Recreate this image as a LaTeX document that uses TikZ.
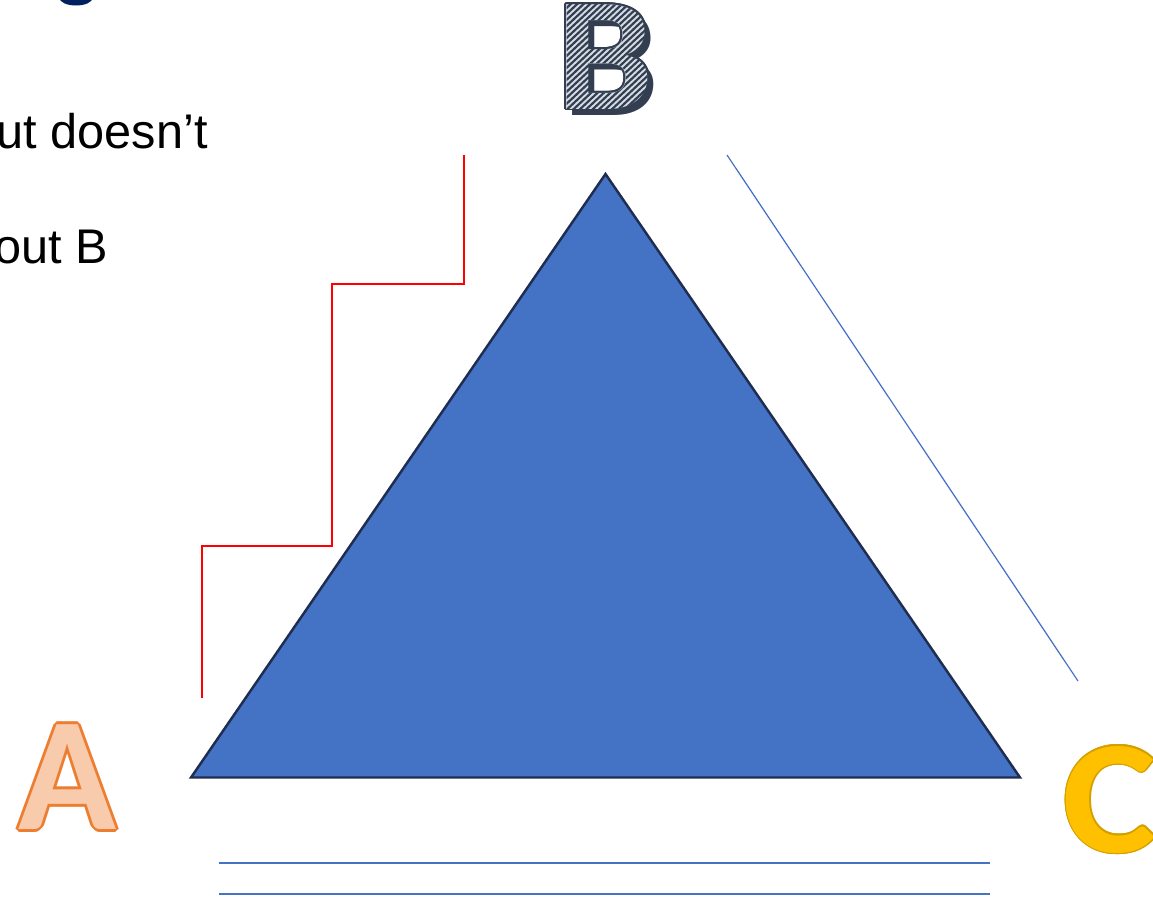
\documentclass[tikz,border=0pt]{standalone}
\usepackage{fontspec}
\setmainfont{Liberation Sans}
\newfontfamily\letterfont{Carlito}
\usepackage{tikz}
\usetikzlibrary{positioning}

\definecolor{trifill}{HTML}{4472C4}
\definecolor{triedge}{HTML}{1F2D50}
\definecolor{stepred}{HTML}{FF0000}
\definecolor{lineblue}{HTML}{4472C4}
\definecolor{apeach}{HTML}{F8CBAD}
\definecolor{aorange}{HTML}{ED7D31}
\definecolor{bnavy}{HTML}{333F50}
\definecolor{blight}{HTML}{D6DCE5}
\definecolor{cgold}{HTML}{FFC000}
\definecolor{crim}{HTML}{D4A000}
\definecolor{titlenavy}{HTML}{002060}

\newcommand{\letterfontsize}{\letterfont\bfseries\fontsize{92}{92}\selectfont}
\newcommand{\wideB}[1]{\scalebox{1.07}[1]{#1}}
\newcommand{\wideC}[1]{\scalebox{1.1}[1]{#1}}
% letter used as clip (text render mode 4), then navy stripes
\newcommand{\hatchedletter}[1]{%
  \special{pdf:literal direct 4 Tr}#1\special{pdf:literal direct 0 Tr}%
  \special{pdf:literal 0.2 0.247 0.314 RG [1.2 1.2] 0 d 0 J 130 w -101 105 m 49 -45 l S}}

\begin{document}
\begin{tikzpicture}[x=0.02cm,y=-0.02cm,
    bodytext/.style={inner sep=0pt, font=\fontsize{27.7}{33}\selectfont, anchor=base east},
    bigletter/.style={inner sep=0pt, font=\letterfontsize, anchor=base},
    triangle/.style={fill=trifill, draw=triedge, line width=1.4pt, line join=miter},
    stepline/.style={draw=stepred, line width=0.85pt},
    thinblue/.style={draw=lineblue, line width=0.7pt},
    baseline/.style={draw=lineblue, line width=0.9pt}]
    \useasboundingbox (0,0) rectangle (1153,897);
    \clip (0,0) rectangle (1153,897);

    % cut off title letter at the top
    \fill[titlenavy] (76,-2) ellipse [x radius=16.5, y radius=7.5];

    \node[bodytext] (line1) at (208,148) {ut doesn’t};
    \node[bodytext] (line2) at (108,263) {out B};

    % the triangle
    \coordinate (apex) at (605.5,174);
    \coordinate (left) at (191,777.5);
    \coordinate (right) at (1020,777.5);
    \draw[triangle] (left) -- (apex) -- (right) -- cycle;

    % red staircase
    \coordinate (stairlow) at (202,698);
    \coordinate (stairmid) at (332,546);
    \coordinate (stairup) at (464,284);
    \coordinate (stairtop) at (464,155);
    \draw[stepline] (stairlow) |- (stairmid) |- (stairup) -- (stairtop);

    % right side line
    \coordinate (slopetop) at (727,155);
    \coordinate (slopelow) at (1078,681);
    \draw[thinblue] (slopetop) -- (slopelow);

    % two lines under the base
    \coordinate (lineAa) at (219,863);
    \coordinate (lineAb) at (990,863);
    \coordinate (lineBa) at (219,894);
    \coordinate (lineBb) at (990,894);
    \draw[baseline] (lineAa) -- (lineAb);
    \draw[baseline] (lineBa) -- (lineBb);

    % letter A, orange outline
    \foreach \a in {0,30,...,330}
        \node[bigletter, text=aorange] (ringA\a) at ([shift={(\a:2.6)}]67.5,829.5) {A};
    \node[bigletter, text=apeach] (letA) at (67.5,829.5) {A};

    % letter C, gold
    \foreach \a in {0,30,...,330}
        \node[bigletter, text=crim] (ringC\a) at ([shift={(\a:1.2)}]1110,852) {\wideC{C}};
    \node[bigletter, text=cgold] (letC) at (1110,852) {\wideC{C}};

    % letter B, shadow, outline and hatching
    \node[bigletter, text=bnavy] (shadowB) at (611,115) {\wideB{B}};
    \foreach \a in {0,30,...,330}
        \node[bigletter, text=bnavy] (ringB\a) at ([shift={(\a:1.8)}]605,109) {\wideB{B}};
    \node[bigletter, text=blight] (letB) at (605,109) {\wideB{\hatchedletter{B}}};
\end{tikzpicture}
\end{document}
